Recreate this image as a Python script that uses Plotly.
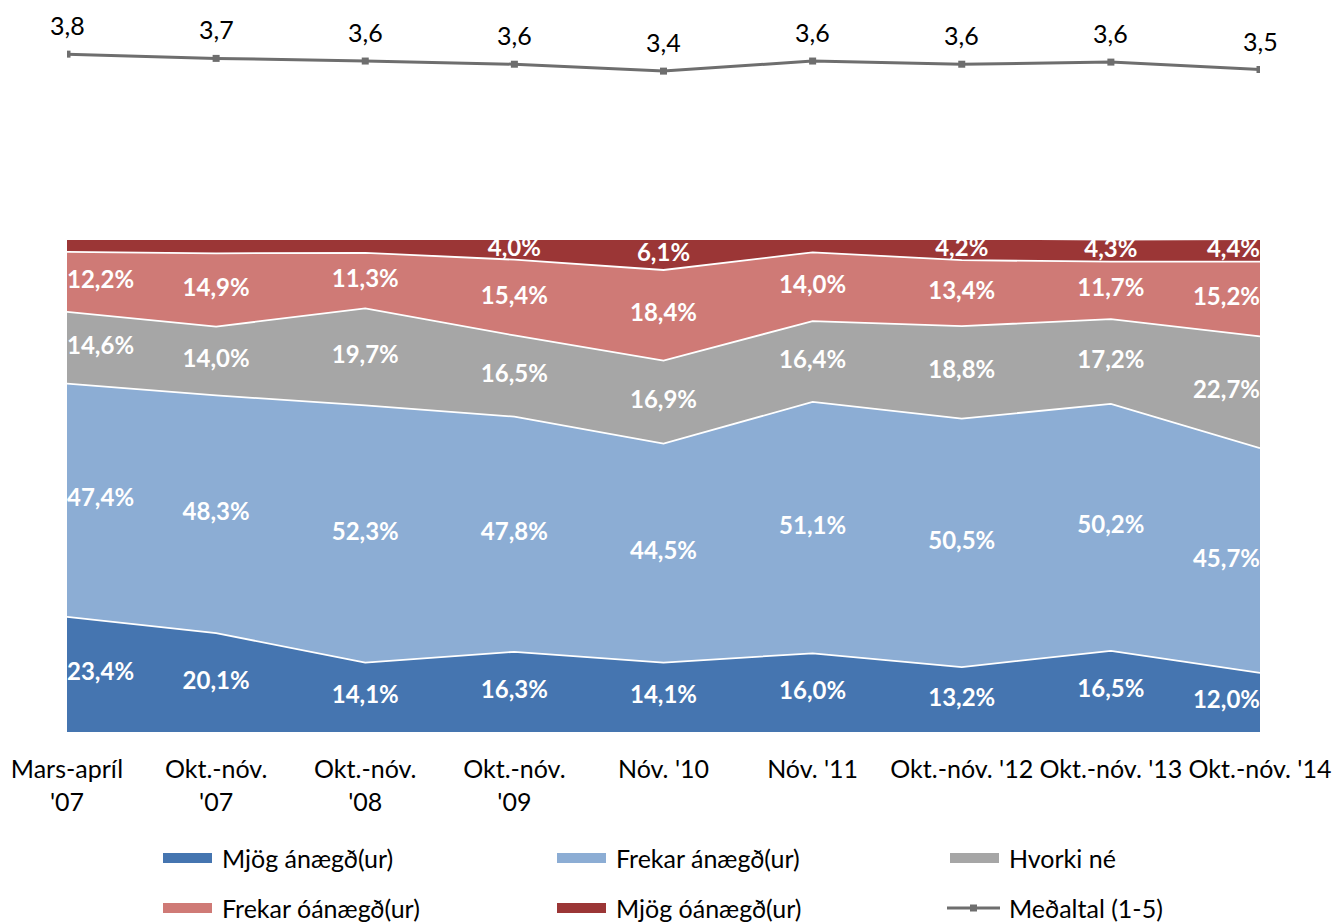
import plotly.graph_objects as go

categories = ["Mars-apríl<br>'07", "Okt.-nóv.<br>'07", "Okt.-nóv.<br>'08", "Okt.-nóv.<br>'09",
              "Nóv. '10", "Nóv. '11", "Okt.-nóv. '12", "Okt.-nóv. '13", "Okt.-nóv. '14"]

mjog_anaegd = [23.4, 20.1, 14.1, 16.3, 14.1, 16.0, 13.2, 16.5, 12.0]
frekar_anaegd = [47.4, 48.3, 52.3, 47.8, 44.5, 51.1, 50.5, 50.2, 45.7]
hvorki_ne = [14.6, 14.0, 19.7, 16.5, 16.9, 16.4, 18.8, 17.2, 22.7]
frekar_oanaegd = [12.2, 14.9, 11.3, 15.4, 18.4, 14.0, 13.4, 11.7, 15.2]
mjog_oanaegd = [2.4, 2.7, 2.6, 4.0, 6.1, 2.5, 4.2, 4.3, 4.4]
medaltal = [3.76, 3.68, 3.63, 3.57, 3.44, 3.63, 3.57, 3.61, 3.47]
medaltal_name = "Meðaltal (1-5)"

series = [
    ("Mjög ánægð(ur)", mjog_anaegd, "#4575B0", True),
    ("Frekar ánægð(ur)", frekar_anaegd, "#8CADD4", True),
    ("Hvorki né", hvorki_ne, "#A6A6A6", True),
    ("Frekar óánægð(ur)", frekar_oanaegd, "#CF7A76", True),
    ("Mjög óánægð(ur)", mjog_oanaegd, "#9B3636", False),
]
shown_labels = {"Mjög óánægð(ur)": [False, False, False, True, True, False, True, True, True]}
line_color = "#6E6E6E"

FONT = "Lato"
OFF = 8  # page body margin
W, H = 1340 - OFF, 923 - OFF
# plot area in screen pixels
SX0, SX1, SY_BOTTOM = 67, 1260, 732
ML = SX0 - OFF
MR = W - (SX1 - OFF)
MB = H - (SY_BOTTOM - OFF)
MT = 0
PW, PH = W - ML - MR, H - MT - MB


def px_x(p):
    return (p - OFF - ML) / PW


def px_y(p):
    return (H - MB - (p - OFF)) / PH


x = list(range(len(categories)))
fig = go.Figure()

cum = [0.0] * len(x)
label_x, label_y, label_t, label_pos = [], [], [], []
for i, (name, vals, color, sep) in enumerate(series):
    fig.add_trace(go.Scatter(
        x=x, y=vals, name=name, mode="lines", stackgroup="one",
        fillcolor=color,
        line=dict(color="white" if sep else color, width=1.8 if sep else 0),
        showlegend=False, hoverinfo="skip",
    ))
    show = shown_labels.get(name, [True] * len(x))
    for j, v in enumerate(vals):
        mid = cum[j] + v / 2
        cum[j] += v
        if show[j]:
            label_x.append(j)
            label_y.append(mid)
            label_t.append(f"{v:.1f}%".replace(".", ","))
            label_pos.append("middle right" if j == 0 else ("middle left" if j == len(x) - 1 else "middle center"))

fig.add_trace(go.Scatter(
    x=label_x, y=label_y, text=label_t, mode="text", textposition=label_pos,
    textfont=dict(family=FONT, size=24, color="white", weight="bold"),
    showlegend=False, hoverinfo="skip",
))

fig.add_trace(go.Scatter(
    x=x, y=medaltal, name=medaltal_name, mode="lines+markers", yaxis="y2",
    line=dict(color=line_color, width=3),
    marker=dict(symbol="square", size=7, color=line_color),
    showlegend=False, hoverinfo="skip",
))
for j, v in enumerate(medaltal):
    fig.add_annotation(x=j, y=v, xref="x", yref="y2", text=f"{v:.1f}".replace(".", ","),
                       showarrow=False, yshift=29,
                       font=dict(family=FONT, size=25, color="black"))

# manual legend (3 columns x 2 rows)
legend_entries = [(s[0], s[2]) for s in series] + [(medaltal_name, None)]
col_x = [163, 557, 950]
row_y = [858, 908]
for k, (name, color) in enumerate(legend_entries):
    cx = col_x[k % 3]
    cy = row_y[k // 3]
    if color is not None:
        fig.add_shape(type="rect", xref="paper", yref="paper",
                      x0=px_x(cx), x1=px_x(cx + 49), y0=px_y(cy + 5), y1=px_y(cy - 5),
                      fillcolor=color, line=dict(width=0))
    else:
        fig.add_shape(type="line", xref="paper", yref="paper",
                      x0=px_x(cx - 3), x1=px_x(cx + 50), y0=px_y(cy), y1=px_y(cy),
                      line=dict(color=line_color, width=3))
        fig.add_shape(type="rect", xref="paper", yref="paper",
                      x0=px_x(cx + 20), x1=px_x(cx + 27), y0=px_y(cy + 3.5), y1=px_y(cy - 3.5),
                      fillcolor=line_color, line=dict(width=0))
    fig.add_annotation(x=px_x(cx + 57), y=px_y(cy), xref="paper", yref="paper",
                       text=name, showarrow=False, xanchor="left", yanchor="middle",
                       font=dict(family=FONT, size=25, color="black"))

fig.update_layout(
    width=W, height=H,
    margin=dict(l=ML, r=MR, t=MT, b=MB, autoexpand=False),
    paper_bgcolor="white", plot_bgcolor="white",
    font=dict(family=FONT, size=25, color="black"),
    xaxis=dict(range=[0, 8], tickmode="array", tickvals=x, ticktext=categories,
               showgrid=False, zeroline=False, showline=False, ticks="", automargin=False,
               ticklabelstandoff=20,
               tickfont=dict(family=FONT, size=25, color="black")),
    yaxis=dict(domain=[0, px_y(240)], range=[0, 100], showgrid=False, zeroline=False,
               showticklabels=False, showline=False, automargin=False),
    yaxis2=dict(domain=[px_y(200), 1], range=[1.01, 4.63], showgrid=False, zeroline=False,
                showticklabels=False, showline=False, automargin=False),
    showlegend=False,
)

fig.write_html("out.html")
